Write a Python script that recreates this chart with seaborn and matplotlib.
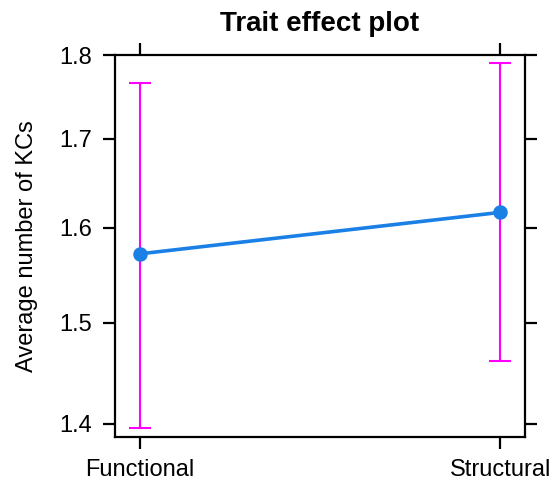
import numpy as np
import pandas as pd
import matplotlib
matplotlib.use("Agg")
import matplotlib.pyplot as plt
from matplotlib.ticker import FixedLocator, FixedFormatter, NullLocator
import seaborn as sns

# Fitted effect of Trait on the response scale, with 95% confidence limits
traits = ["Functional", "Structural"]
fit = [1.572, 1.617]
lower = [1.396, 1.461]
upper = [1.766, 1.790]
y_ticks = [1.4, 1.5, 1.6, 1.7, 1.8]
y_tick_labels = ["1.4", "1.5", "1.6", "1.7", "1.8"]

df = pd.DataFrame({"Trait": traits, "fit": fit, "lower": lower, "upper": upper})

sns.set_theme(style="white")
plt.rcParams["font.family"] = ["Liberation Sans", "DejaVu Sans"]

fig = plt.figure(figsize=(5.59, 4.84), dpi=100)
ax = fig.add_axes([115 / 559, 1 - 437 / 484, 410 / 559, 382 / 484])

pos = np.arange(len(traits))
err = [df["fit"] - df["lower"], df["upper"] - df["fit"]]
ax.errorbar(pos, df["fit"], yerr=err, fmt="none", ecolor="#ff00ff",
            elinewidth=1.5, capsize=8, capthick=1.5, zorder=1)

sns.pointplot(data=df, x="Trait", y="fit", color="#1a80e6", errorbar=None,
              markers="o", markersize=8.5, linewidth=2.6, ax=ax, zorder=3)

ax.set_yscale("log")
ax.set_ylim(1.3876, 1.8)
ax.set_xlim(-0.069, 1.069)
ax.yaxis.set_major_locator(FixedLocator(y_ticks))
ax.yaxis.set_major_formatter(FixedFormatter(y_tick_labels))
ax.yaxis.set_minor_locator(NullLocator())

for s in ax.spines.values():
    s.set_visible(True)
    s.set_color("black")
    s.set_linewidth(1.6)

ax.tick_params(axis="both", which="major", direction="out", length=8.5, width=1.6,
               color="black", labelsize=17, labelcolor="black",
               top=True, right=True, bottom=True, left=True,
               labeltop=False, labelright=False)
ax.tick_params(axis="y", pad=8)
ax.tick_params(axis="x", pad=7)

ax.set_xlabel("")
ax.set_ylabel("Average number of KCs", fontsize=17, color="black", labelpad=15)
ax.set_title("Trait effect plot", fontsize=20, fontweight="bold", color="black", pad=17)

fig.savefig("out.png", dpi=100, facecolor="white")
